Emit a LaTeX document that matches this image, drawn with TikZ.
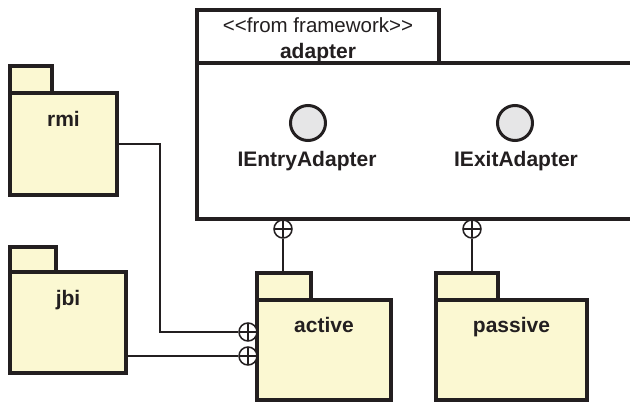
\documentclass[tikz,border=0pt]{standalone}
\usepackage{fontspec}
\setmainfont{Liberation Sans}
\definecolor{ink}{HTML}{231F20}
\definecolor{pkgfill}{HTML}{FBF8D2}
\definecolor{ifill}{HTML}{E6E6E7}
\begin{document}
\begin{tikzpicture}[x=1pt,y=-1pt,
  box/.style={draw=ink, anchor=north west, inner sep=0pt, outer sep=0pt},
  pkg/.style={box, line width=3.2pt, fill=pkgfill},
  frame/.style={box, line width=3.8pt, fill=white},
  lbl/.style={anchor=base, text=ink, inner sep=0pt, font=\fontsize{21}{25}\selectfont\bfseries},
  plain/.style={anchor=base, text=ink, inner sep=0pt, font=\fontsize{20.5}{24}\selectfont},
  iface/.style={circle, draw=ink, line width=3pt, fill=ifill, minimum size=35pt, inner sep=0pt},
  wire/.style={draw=ink, line width=1.3pt},
  nest/.style={circle, draw=ink, line width=1.5pt, fill=white, minimum size=18pt, inner sep=0pt,
    path picture={\draw[ink, line width=1.3pt]
      (path picture bounding box.north) -- (path picture bounding box.south)
      (path picture bounding box.west) -- (path picture bounding box.east);}},
]
\useasboundingbox (0,0) rectangle (630,404);
\clip (0,0) rectangle (630,404);

% framework package (body runs past the right edge)
\node[frame, minimum width=242pt, minimum height=53pt] (adapterTab) at (197,10) {};
\node[frame, minimum width=460pt, minimum height=156pt] (adapter) at (197,63) {};
\node[plain] (stereo) at (318,33) {<{}<from framework>{}>};
\node[lbl] (adapterName) at (318,59) {adapter};

% provided interfaces
\node[iface] (entry) at (308,123) {};
\node[iface] (exit) at (515,123) {};
\node[lbl] (entryName) at (307,167) {IEntryAdapter};
\node[lbl] (exitName) at (516,167) {IExitAdapter};

% rmi package
\node[pkg, minimum width=42pt, minimum height=27pt] (rmiTab) at (10,66) {};
\node[pkg, minimum width=107pt, minimum height=102pt] (rmi) at (10,93) {};
\node[lbl] (rmiName) at (63.5,127) {rmi};

% jbi package
\node[pkg, minimum width=46pt, minimum height=25pt] (jbiTab) at (10,247) {};
\node[pkg, minimum width=116pt, minimum height=101pt] (jbi) at (10,272) {};
\node[lbl] (jbiName) at (68,305) {jbi};

% active package
\node[pkg, minimum width=54pt, minimum height=27pt] (activeTab) at (257,273) {};
\node[pkg, minimum width=134pt, minimum height=100pt] (active) at (257,300) {};
\node[lbl] (activeName) at (324,332) {active};

% passive package
\node[pkg, minimum width=62pt, minimum height=27pt] (passiveTab) at (436,273) {};
\node[pkg, minimum width=151pt, minimum height=100pt] (passive) at (436,300) {};
\node[lbl] (passiveName) at (511.5,332) {passive};

% containment connectors
\node[nest] (nestActive) at (283,229) {};
\node[nest] (nestPassive) at (472,229) {};
\node[nest] (nestRmi) at (248,332) {};
\node[nest] (nestJbi) at (248,356) {};

\draw[wire] (nestActive.south) -- (nestActive.south |- activeTab.north);
\draw[wire] (nestPassive.south) -- (nestPassive.south |- passiveTab.north);
\draw[wire] (rmi.east) -- ++(43,0) |- (nestRmi.west);
\draw[wire] (nestJbi.west) -- (nestJbi.west -| jbi.east);
\end{tikzpicture}
\end{document}
